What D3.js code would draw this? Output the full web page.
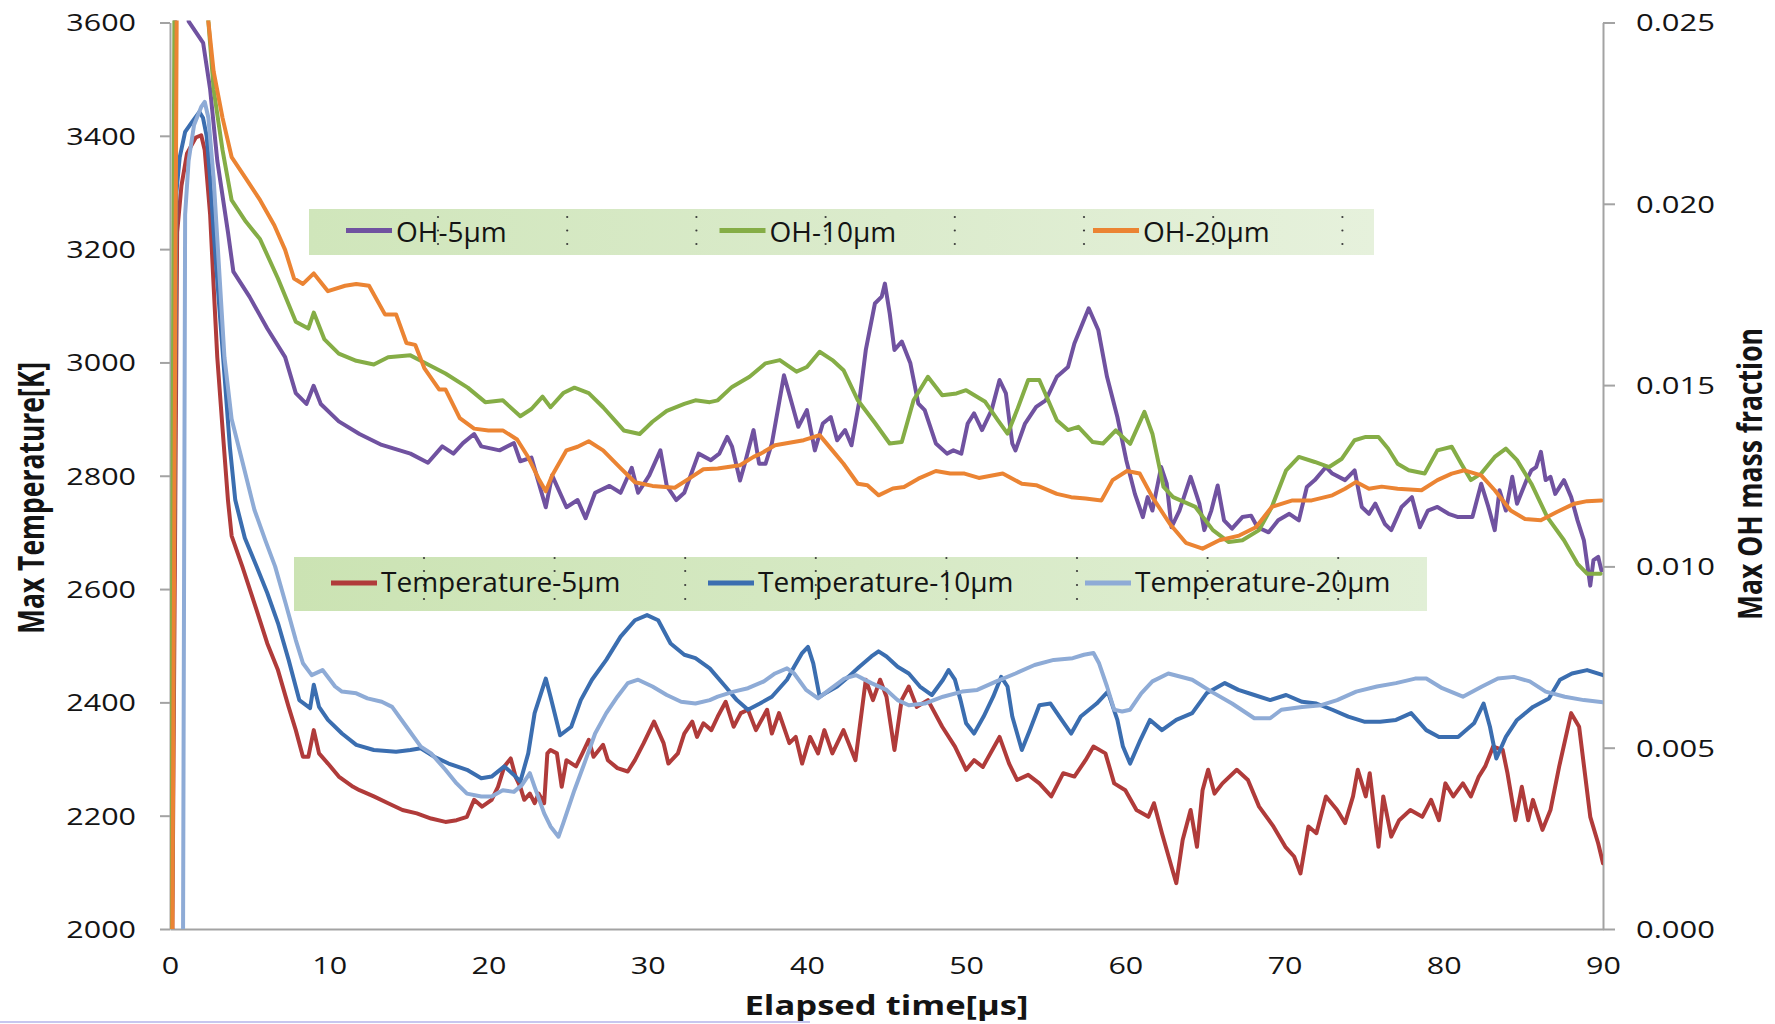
<!DOCTYPE html>
<html>
<head>
<meta charset="utf-8">
<script src="https://cdn.jsdelivr.net/npm/d3@7"></script>
<style>
  html, body { margin: 0; padding: 0; background: #ffffff; }
  svg { display: block; }
  text { font-family: "Open Sans", "Noto Sans", sans-serif; }
</style>
</head>
<body>
<svg id="chart" width="1775" height="1024"></svg>
<script>
// ---- axis ticks ----
const timeTicks = d3.range(0, 91, 10);          // µs
const tempTicks = d3.range(2000, 3601, 200);    // K
const ohTicks = [0, 0.005, 0.010, 0.015, 0.020, 0.025];

// ---- series: [elapsed time (µs), value] ----
// Max OH mass fraction (right axis)
const oh5um = [[0.1,0],[0.35,0.028],[0.9,0.028],[1.17,0.02503],[2.08,0.02444],[2.52,0.02316],[2.97,0.02119],[3.64,0.01922],[3.98,0.01813],[4.99,0.01744],[6.11,0.01656],[7.23,0.01577],[7.9,0.01478],[8.57,0.01448],[9.02,0.01498],[9.47,0.01448],[10.6,0.014],[11.9,0.01365],[13.3,0.01335],[15.1,0.01311],[16.2,0.01286],[17.1,0.01331],[17.8,0.01311],[18.4,0.0134],[19.1,0.01365],[19.55,0.01331],[20.7,0.0132],[21.6,0.0134],[22.0,0.0129],[22.7,0.013],[23.6,0.01163],[24.0,0.01251],[24.9,0.01163],[25.6,0.01183],[26.1,0.01133],[26.7,0.01203],[27.6,0.01222],[28.3,0.01203],[29.0,0.01272],[29.4,0.01203],[30.1,0.01251],[30.8,0.0132],[31.2,0.01222],[31.8,0.01183],[32.3,0.01203],[33.2,0.01311],[33.97,0.01293],[34.5,0.01311],[35.0,0.01357],[35.3,0.0133],[35.8,0.01237],[36.1,0.01283],[36.65,0.01376],[37.0,0.01283],[37.4,0.01283],[37.8,0.01339],[38.56,0.01527],[39.0,0.01458],[39.46,0.01385],[40.0,0.01431],[40.5,0.0132],[41.0,0.01394],[41.5,0.01412],[41.9,0.01348],[42.4,0.01376],[42.8,0.01334],[43.3,0.01458],[43.7,0.01597],[44.27,0.01725],[44.7,0.01744],[44.9,0.0178],[45.2,0.01698],[45.5,0.01597],[45.96,0.0162],[46.5,0.0156],[47.0,0.01449],[47.4,0.01431],[48.1,0.01339],[48.8,0.01311],[49.2,0.0132],[49.7,0.01311],[50.1,0.01394],[50.5,0.01422],[51.0,0.01376],[51.6,0.01431],[52.1,0.01514],[52.5,0.01477],[52.9,0.01339],[53.1,0.0132],[53.7,0.01394],[54.4,0.0144],[55.0,0.01458],[55.7,0.01523],[56.4,0.0155],[56.8,0.01615],[57.7,0.01712],[58.3,0.01652],[58.85,0.01523],[59.5,0.01412],[60.06,0.01293],[60.6,0.012],[61.1,0.01136],[61.4,0.01191],[61.7,0.01154],[62.25,0.01274],[62.6,0.01228],[62.9,0.01108],[63.4,0.01154],[64.1,0.01247],[64.65,0.01173],[64.96,0.011],[65.4,0.01154],[65.8,0.01223],[66.2,0.01127],[66.7,0.01104],[67.35,0.01136],[67.9,0.0114],[68.3,0.01108],[69.0,0.01094],[69.6,0.01127],[70.3,0.01145],[70.9,0.01127],[71.4,0.01219],[71.9,0.01238],[72.6,0.01274],[73.0,0.01256],[73.8,0.01238],[74.4,0.01265],[74.85,0.01164],[75.3,0.01145],[75.7,0.01173],[76.3,0.01117],[76.7,0.011],[77.35,0.01164],[78.0,0.01191],[78.5,0.01108],[79.0,0.01154],[79.6,0.01164],[80.3,0.01145],[80.9,0.01136],[81.3,0.01136],[81.8,0.01136],[82.35,0.01228],[82.8,0.01164],[83.2,0.011],[83.5,0.0121],[83.9,0.01154],[84.3,0.01247],[84.6,0.01173],[85.2,0.01238],[85.5,0.01265],[85.8,0.01274],[86.1,0.01316],[86.4,0.01238],[86.7,0.01247],[87.0,0.012],[87.55,0.01238],[88.0,0.01191],[88.4,0.01127],[88.8,0.01072],[89.2,0.00947],[89.4,0.01017],[89.7,0.01026],[89.9,0.00989]];

const oh10um = [[0.05,0],[0.3,0.028],[2.2,0.028],[2.41,0.02503],[2.74,0.02316],[3.3,0.02148],[3.87,0.0201],[4.76,0.01951],[5.66,0.01902],[6.78,0.01794],[7.9,0.01675],[8.69,0.01656],[9.03,0.017],[9.7,0.01626],[10.6,0.01587],[11.7,0.01567],[12.8,0.01557],[13.7,0.01577],[15.1,0.01582],[15.75,0.01567],[17.3,0.01532],[18.7,0.01493],[19.8,0.01453],[20.9,0.01458],[22.0,0.01414],[22.7,0.01434],[23.4,0.01468],[23.9,0.01439],[24.7,0.01478],[25.4,0.01493],[26.3,0.01478],[27.2,0.01439],[28.5,0.01375],[29.5,0.01365],[30.3,0.01399],[31.2,0.01429],[32.3,0.01448],[33.0,0.01458],[33.9,0.01453],[34.4,0.01458],[35.3,0.01495],[36.4,0.01523],[37.4,0.0156],[38.3,0.01569],[39.35,0.01537],[40.0,0.0155],[40.8,0.01592],[41.6,0.01569],[42.3,0.01541],[43.2,0.01458],[44.3,0.01394],[45.2,0.01339],[45.96,0.01343],[46.7,0.01458],[47.6,0.01523],[48.5,0.01472],[49.4,0.01477],[50.0,0.01486],[51.2,0.01454],[52.0,0.01403],[52.6,0.01366],[53.2,0.01431],[53.9,0.01514],[54.6,0.01514],[55.7,0.01403],[56.4,0.01376],[57.05,0.01385],[57.95,0.01343],[58.6,0.01339],[59.4,0.01375],[60.3,0.01338],[61.2,0.01426],[61.7,0.01366],[62.4,0.01219],[63.0,0.01191],[64.4,0.01164],[65.5,0.011],[66.5,0.01067],[67.35,0.01072],[68.4,0.011],[69.2,0.01164],[70.1,0.01265],[70.9,0.01302],[71.9,0.01288],[72.8,0.01274],[73.6,0.01297],[74.4,0.01348],[75.1,0.01357],[75.9,0.01357],[76.5,0.01325],[77.1,0.01283],[77.8,0.01265],[78.8,0.01256],[79.6,0.0132],[80.5,0.0133],[81.1,0.01283],[81.7,0.01238],[82.35,0.01256],[83.2,0.01302],[83.9,0.01325],[84.6,0.01293],[85.5,0.01228],[86.5,0.01136],[87.55,0.01072],[88.4,0.01007],[89.0,0.0098],[89.85,0.0098]];

const oh20um = [[0.15,0],[0.45,0.028],[2.2,0.028],[2.41,0.02503],[2.74,0.02365],[3.3,0.02237],[3.87,0.02129],[4.76,0.0207],[5.66,0.0201],[6.55,0.01941],[7.23,0.01873],[7.79,0.01794],[8.35,0.01779],[9.03,0.01808],[9.92,0.01759],[11.0,0.01774],[11.7,0.01779],[12.5,0.01774],[13.5,0.01695],[14.2,0.01695],[14.85,0.01616],[15.4,0.01611],[15.97,0.01547],[16.9,0.01488],[17.3,0.01488],[18.2,0.01409],[19.1,0.0138],[20.0,0.01375],[20.9,0.01375],[21.8,0.0135],[22.5,0.01301],[23.15,0.01242],[23.6,0.01207],[24.0,0.01251],[24.9,0.0132],[25.6,0.0133],[26.3,0.01345],[27.2,0.0132],[28.3,0.01271],[29.2,0.01232],[30.3,0.01222],[31.7,0.01217],[32.6,0.01242],[33.5,0.01268],[34.4,0.0127],[35.8,0.01279],[36.65,0.01302],[37.1,0.01311],[38.0,0.01334],[39.8,0.01348],[40.8,0.01362],[41.6,0.0132],[42.3,0.01283],[43.2,0.01228],[43.8,0.01224],[44.5,0.01196],[45.4,0.01215],[46.1,0.01219],[47.0,0.01242],[48.1,0.01263],[49.0,0.01256],[49.9,0.01256],[50.8,0.01244],[52.3,0.01256],[53.5,0.01228],[54.4,0.01224],[55.7,0.012],[56.6,0.01191],[57.5,0.01187],[58.5,0.01182],[59.2,0.01238],[60.1,0.01263],[60.9,0.01256],[61.7,0.01191],[62.8,0.01117],[63.8,0.01065],[64.85,0.01049],[65.9,0.01072],[67.15,0.01085],[68.2,0.01108],[69.2,0.01164],[70.5,0.01182],[71.7,0.01182],[73.0,0.01196],[73.8,0.01214],[74.5,0.01233],[75.3,0.01214],[76.1,0.0122],[77.1,0.01214],[78.6,0.0121],[79.6,0.01238],[80.5,0.01256],[81.3,0.01265],[82.35,0.01251],[83.2,0.0121],[84.2,0.01154],[85.1,0.01131],[86.1,0.01127],[87.1,0.0115],[88.2,0.01173],[89.0,0.0118],[89.9,0.01182]];

// Max temperature in K (left axis)
const temp5um = [[0.15,2000],[0.45,3230],[0.72,3312],[1.07,3369],[1.62,3397],[1.96,3401],[2.18,3375],[2.52,3261],[2.74,3135],[2.97,3009],[3.3,2883],[3.64,2757],[3.87,2694],[4.54,2640],[5.44,2563],[6.11,2504],[6.78,2457],[7.45,2392],[7.9,2351],[8.35,2304],[8.69,2304],[9.03,2351],[9.36,2310],[9.92,2292],[10.6,2269],[11.5,2251],[11.9,2245],[12.8,2234],[13.7,2222],[14.6,2210],[15.5,2204],[16.4,2195],[17.3,2189],[18.0,2192],[18.65,2198],[19.1,2228],[19.6,2216],[20.2,2228],[20.6,2251],[21.0,2287],[21.4,2301],[21.7,2269],[22.0,2251],[22.25,2228],[22.6,2239],[22.9,2222],[23.15,2239],[23.5,2222],[23.7,2310],[23.9,2316],[24.3,2310],[24.6,2251],[24.9,2298],[25.5,2287],[25.9,2310],[26.3,2334],[26.6,2304],[27.2,2325],[27.5,2298],[28.1,2284],[28.75,2278],[29.2,2298],[29.75,2328],[30.4,2366],[31.0,2328],[31.3,2292],[31.9,2310],[32.3,2345],[32.8,2366],[33.1,2339],[33.5,2363],[34.0,2351],[34.4,2375],[34.9,2401],[35.4,2357],[35.85,2381],[36.3,2387],[36.8,2351],[37.5,2387],[37.8,2345],[38.25,2381],[38.9,2328],[39.3,2339],[39.7,2292],[40.2,2339],[40.7,2310],[41.1,2351],[41.6,2310],[42.3,2351],[43.05,2298],[43.7,2440],[44.15,2404],[44.6,2440],[45.0,2410],[45.5,2316],[45.95,2404],[46.4,2428],[46.9,2392],[47.6,2404],[48.5,2357],[49.3,2322],[50.0,2281],[50.5,2298],[51.05,2286],[52.1,2339],[52.7,2292],[53.2,2263],[53.9,2272],[54.6,2257],[55.35,2234],[56.1,2275],[56.8,2269],[57.5,2298],[58.0,2322],[58.75,2310],[59.3,2257],[60.0,2245],[60.7,2210],[61.45,2198],[61.8,2222],[62.3,2169],[62.9,2110],[63.2,2081],[63.6,2157],[64.1,2210],[64.5,2145],[64.85,2245],[65.2,2281],[65.6,2239],[66.1,2257],[67.0,2281],[67.7,2263],[68.4,2216],[69.3,2181],[70.05,2145],[70.6,2128],[71.0,2098],[71.5,2181],[72.0,2169],[72.6,2234],[73.3,2210],[73.8,2187],[74.3,2234],[74.6,2281],[75.1,2234],[75.35,2275],[75.9,2145],[76.2,2234],[76.7,2163],[77.2,2192],[77.9,2210],[78.65,2198],[79.2,2228],[79.7,2192],[80.1,2257],[80.6,2234],[81.2,2257],[81.7,2234],[82.2,2269],[82.6,2287],[83.1,2322],[83.7,2316],[84.0,2275],[84.5,2192],[84.9,2251],[85.3,2192],[85.6,2228],[86.2,2175],[86.7,2210],[87.25,2287],[88.0,2381],[88.5,2357],[89.2,2198],[89.7,2151],[90.0,2116]];

const temp10um = [[0.12,2000],[0.4,3300],[0.61,3362],[0.95,3407],[1.4,3425],[1.85,3442],[2.07,3432],[2.3,3400],[2.52,3325],[2.74,3230],[3.08,3104],[3.42,2978],[3.76,2851],[4.1,2757],[4.7,2690],[5.44,2640],[6.11,2593],[6.78,2540],[7.45,2475],[8.12,2404],[8.8,2390],[9.03,2431],[9.36,2392],[9.92,2369],[10.8,2345],[11.7,2325],[12.8,2316],[14.2,2313],[15.1,2316],[15.75,2319],[16.6,2304],[17.5,2292],[18.65,2281],[19.55,2266],[20.2,2269],[21.0,2287],[21.6,2272],[22.0,2260],[22.5,2310],[22.9,2381],[23.6,2442],[23.9,2410],[24.5,2342],[25.2,2357],[25.8,2404],[26.5,2440],[27.4,2475],[28.3,2516],[29.2,2545],[29.96,2554],[30.66,2545],[31.44,2504],[32.3,2484],[33.0,2478],[33.9,2460],[34.88,2428],[35.6,2404],[36.3,2387],[37.05,2398],[37.8,2410],[38.75,2440],[39.2,2463],[39.7,2487],[40.07,2498],[40.4,2469],[40.8,2410],[41.15,2416],[41.9,2428],[42.6,2445],[43.3,2463],[44.05,2481],[44.5,2490],[45.0,2481],[45.7,2463],[46.4,2451],[47.1,2428],[47.85,2413],[48.55,2440],[48.9,2457],[49.3,2440],[49.65,2404],[50.0,2363],[50.5,2345],[51.1,2375],[51.7,2410],[52.2,2445],[52.6,2428],[52.9,2375],[53.5,2316],[54.0,2351],[54.6,2395],[55.3,2398],[56.0,2369],[56.6,2345],[57.2,2375],[58.2,2398],[58.9,2419],[59.5,2369],[59.85,2322],[60.3,2292],[60.95,2334],[61.55,2369],[62.3,2351],[63.2,2369],[64.2,2381],[65.1,2416],[66.25,2434],[67.1,2422],[68.1,2413],[69.1,2404],[70.1,2413],[71.1,2401],[72.0,2398],[73.0,2387],[74.0,2375],[75.0,2366],[76.0,2366],[77.0,2369],[77.95,2381],[78.9,2351],[79.7,2339],[80.9,2339],[81.9,2363],[82.5,2398],[82.9,2357],[83.3,2301],[83.9,2339],[84.6,2369],[85.6,2392],[86.6,2407],[87.3,2440],[88.05,2451],[89.0,2457],[90.0,2448]];

const temp20um = [[0.82,2000],[0.95,3261],[1.17,3356],[1.51,3419],[1.96,3451],[2.18,3460],[2.41,3432],[2.74,3325],[3.08,3167],[3.42,3009],[3.87,2900],[4.5,2830],[5.3,2740],[6.0,2685],[6.6,2640],[7.26,2575],[7.9,2510],[8.35,2469],[8.9,2448],[9.58,2457],[10.37,2428],[10.8,2419],[11.7,2416],[12.4,2407],[13.3,2401],[13.95,2392],[14.85,2357],[15.75,2322],[16.4,2310],[17.3,2281],[18.0,2257],[18.65,2239],[19.55,2234],[20.2,2234],[20.9,2245],[21.6,2242],[22.1,2254],[22.6,2275],[22.9,2251],[23.5,2204],[23.9,2181],[24.4,2163],[24.7,2187],[25.4,2245],[26.1,2298],[26.7,2345],[27.4,2381],[28.1,2410],[28.75,2434],[29.4,2440],[30.3,2428],[31.2,2413],[32.1,2401],[33.0,2398],[33.9,2404],[34.4,2410],[35.4,2419],[36.3,2425],[37.3,2437],[38.0,2451],[38.75,2460],[39.2,2451],[39.95,2422],[40.7,2407],[41.4,2422],[42.35,2442],[43.1,2448],[44.05,2434],[45.0,2422],[45.7,2404],[46.4,2395],[47.4,2398],[48.55,2410],[49.75,2419],[50.7,2422],[51.9,2437],[53.1,2451],[54.3,2466],[55.5,2475],[56.7,2478],[57.4,2484],[58.0,2487],[58.35,2469],[58.85,2428],[59.3,2387],[59.8,2384],[60.3,2387],[61.0,2416],[61.7,2437],[62.7,2451],[64.2,2440],[65.4,2419],[66.7,2398],[68.1,2372],[69.1,2372],[69.8,2387],[71.1,2392],[72.3,2395],[73.3,2404],[74.5,2419],[75.8,2428],[77.0,2434],[78.2,2442],[78.9,2442],[79.9,2425],[81.2,2410],[82.4,2428],[83.4,2442],[84.4,2445],[85.4,2437],[86.4,2419],[87.6,2410],[88.8,2404],[90.0,2400]];

const ohNames = ["OH-5µm", "OH-10µm", "OH-20µm"];
const tempNames = ["Temperature-5µm", "Temperature-10µm", "Temperature-20µm"];

// ---- styling ----
const colors = {
  temp5: "#b03b3a", temp10: "#3b6eb0", temp20: "#8eabd6",
  oh5: "#7052a0", oh10: "#85ad46", oh20: "#eb8433"
};
const axisColor = "#a3a3a3";
const textColor = "#141414";

const plot = { left: 170, right: 1603, top: 22.5, bottom: 929 };

const svg = d3.select("#chart");
svg.append("rect").attr("width", 1775).attr("height", 1024).attr("fill", "#ffffff");

const x = d3.scaleLinear().domain([0, 90]).range([plot.left, plot.right]);
const yT = d3.scaleLinear().domain([2000, 3600]).range([plot.bottom, plot.top]);
const yOH = d3.scaleLinear().domain([0, 0.025]).range([plot.bottom, plot.top]);

const defs = svg.append("defs");
defs.append("clipPath").attr("id", "plotClip")
  .append("rect")
  .attr("x", plot.left).attr("y", plot.top - 2)
  .attr("width", plot.right - plot.left).attr("height", plot.bottom - plot.top + 2);

function legendGradient(id, stops) {
  const g = defs.append("linearGradient").attr("id", id)
    .attr("x1", "0%").attr("x2", "100%").attr("y1", "0%").attr("y2", "0%");
  stops.forEach(([o, c]) => g.append("stop").attr("offset", o).attr("stop-color", c));
}
legendGradient("ohBoxFill", [["0%", "#d0e6bb"], ["55%", "#dbebcc"], ["100%", "#e6f1dc"]]);
legendGradient("tempBoxFill", [["0%", "#cbe3b3"], ["50%", "#d6e9c4"], ["100%", "#e1efd6"]]);

// widen glyphs horizontally to the chart's lettering
function stretch(sel, k) {
  sel.each(function () {
    const L = this.getComputedTextLength();
    d3.select(this).attr("textLength", L * k).attr("lengthAdjust", "spacingAndGlyphs");
  });
}
function styleAxis(g) {
  g.attr("font-family", null).attr("font-size", null);
  g.selectAll("path, line").attr("stroke", axisColor).attr("stroke-width", 2);
  g.selectAll("text")
    .attr("font-family", "'Open Sans', sans-serif")
    .attr("font-size", 24)
    .attr("fill", textColor);
}

// ---- axes ----
const gLeft = svg.append("g")
  .attr("transform", `translate(${plot.left},0)`)
  .call(d3.axisLeft(yT).tickValues(tempTicks).tickSize(10).tickSizeOuter(0)
    .tickPadding(24).tickFormat(d3.format("d")));
styleAxis(gLeft);
gLeft.selectAll("text").attr("dy", "0.35em");
stretch(gLeft.selectAll("text"), 1.27);

const gRight = svg.append("g")
  .attr("transform", `translate(${plot.right},0)`)
  .call(d3.axisRight(yOH).tickValues(ohTicks).tickSize(12).tickSizeOuter(0)
    .tickPadding(21).tickFormat(d3.format(".3f")));
styleAxis(gRight);
gRight.selectAll("text").attr("dy", "0.35em");
stretch(gRight.selectAll("text"), 1.29);

const gBottom = svg.append("g")
  .attr("transform", `translate(0,${plot.bottom})`)
  .call(d3.axisBottom(x).tickValues(timeTicks).tickSize(0).tickSizeOuter(0));
styleAxis(gBottom);
gBottom.selectAll("text").attr("y", 44.5).attr("dy", 0);
stretch(gBottom.selectAll("text"), 1.27);

// ---- axis titles ----
const leftTitle = svg.append("text")
  .attr("transform", "translate(44,498) rotate(-90) scale(1,1.28)")
  .attr("text-anchor", "middle").attr("font-weight", 700).attr("font-size", 28)
  .attr("fill", textColor).text("Max Temperature[K]");
leftTitle.attr("textLength", 272).attr("lengthAdjust", "spacingAndGlyphs");

const rightTitle = svg.append("text")
  .attr("transform", "translate(1762,474) rotate(-90) scale(1,1.22)")
  .attr("text-anchor", "middle").attr("font-weight", 700).attr("font-size", 28)
  .attr("fill", textColor).text("Max OH mass fraction");
rightTitle.attr("textLength", 292).attr("lengthAdjust", "spacingAndGlyphs");

const bottomTitle = svg.append("text")
  .attr("x", (plot.left + plot.right) / 2).attr("y", 1015)
  .attr("text-anchor", "middle").attr("font-weight", 700).attr("font-size", 26)
  .attr("fill", textColor).text("Elapsed time[µs]");
bottomTitle.attr("textLength", 284).attr("lengthAdjust", "spacingAndGlyphs");

// thin rule along the lower page edge
svg.append("rect").attr("x", 0).attr("y", 1021).attr("width", 810).attr("height", 2)
  .attr("fill", "#c7c7ef");

// ---- legend panels (drawn under the curves) ----
function legendPanel(cfg) {
  const g = svg.append("g");
  g.append("rect").attr("x", cfg.x).attr("y", cfg.y).attr("width", cfg.w).attr("height", cfg.h)
    .attr("fill", `url(#${cfg.fill})`);
  // dotted cell dividers
  d3.range(cfg.dotCount).forEach(k => {
    const dx = cfg.dotX0 + k * cfg.dotStep;
    cfg.dotYs.forEach(dy => {
      g.append("circle").attr("cx", dx).attr("cy", dy).attr("r", 1.1).attr("fill", "#3a3a3a");
    });
  });
  return g;
}
const ohPanel = legendPanel({ x: 309, y: 209, w: 1065, h: 46, fill: "ohBoxFill",
  dotX0: 438, dotStep: 129.2, dotCount: 8, dotYs: [217, 230.5, 244] });
const tempPanel = legendPanel({ x: 294, y: 557, w: 1133, h: 54, fill: "tempBoxFill",
  dotX0: 424, dotStep: 130.6, dotCount: 8, dotYs: [558, 571, 585, 599] });

// ---- curves ----
const clipG = svg.append("g").attr("clip-path", "url(#plotClip)");
const lineT = d3.line().x(d => x(d[0])).y(d => yT(d[1]));
const lineOH = d3.line().x(d => x(d[0])).y(d => yOH(d[1]));

const seriesList = [
  { data: temp5um, gen: lineT, color: colors.temp5 },
  { data: temp10um, gen: lineT, color: colors.temp10 },
  { data: temp20um, gen: lineT, color: colors.temp20 },
  { data: oh5um, gen: lineOH, color: colors.oh5 },
  { data: oh10um, gen: lineOH, color: colors.oh10 },
  { data: oh20um, gen: lineOH, color: colors.oh20 }
];
seriesList.forEach(s => {
  clipG.append("path").datum(s.data)
    .attr("d", s.gen)
    .attr("fill", "none")
    .attr("stroke", s.color)
    .attr("stroke-width", 4)
    .attr("stroke-linejoin", "round")
    .attr("stroke-linecap", "round");
});

// ---- legend entries ----
function legendEntries(g, names, cols, cfg) {
  names.forEach((name, i) => {
    const x0 = cfg.x0 + i * cfg.step;
    g.append("line").attr("x1", x0).attr("x2", x0 + 46).attr("y1", cfg.y).attr("y2", cfg.y)
      .attr("stroke", cols[i]).attr("stroke-width", 5);
    g.append("text").attr("x", x0 + 50).attr("y", cfg.baseline)
      .attr("font-size", 28).attr("fill", textColor).text(name);
  });
}
legendEntries(ohPanel, ohNames, [colors.oh5, colors.oh10, colors.oh20],
  { x0: 346, step: 373.5, y: 230.5, baseline: 242 });
legendEntries(tempPanel, tempNames, [colors.temp5, colors.temp10, colors.temp20],
  { x0: 331, step: 377, y: 583, baseline: 592 });
</script>
</body>
</html>
